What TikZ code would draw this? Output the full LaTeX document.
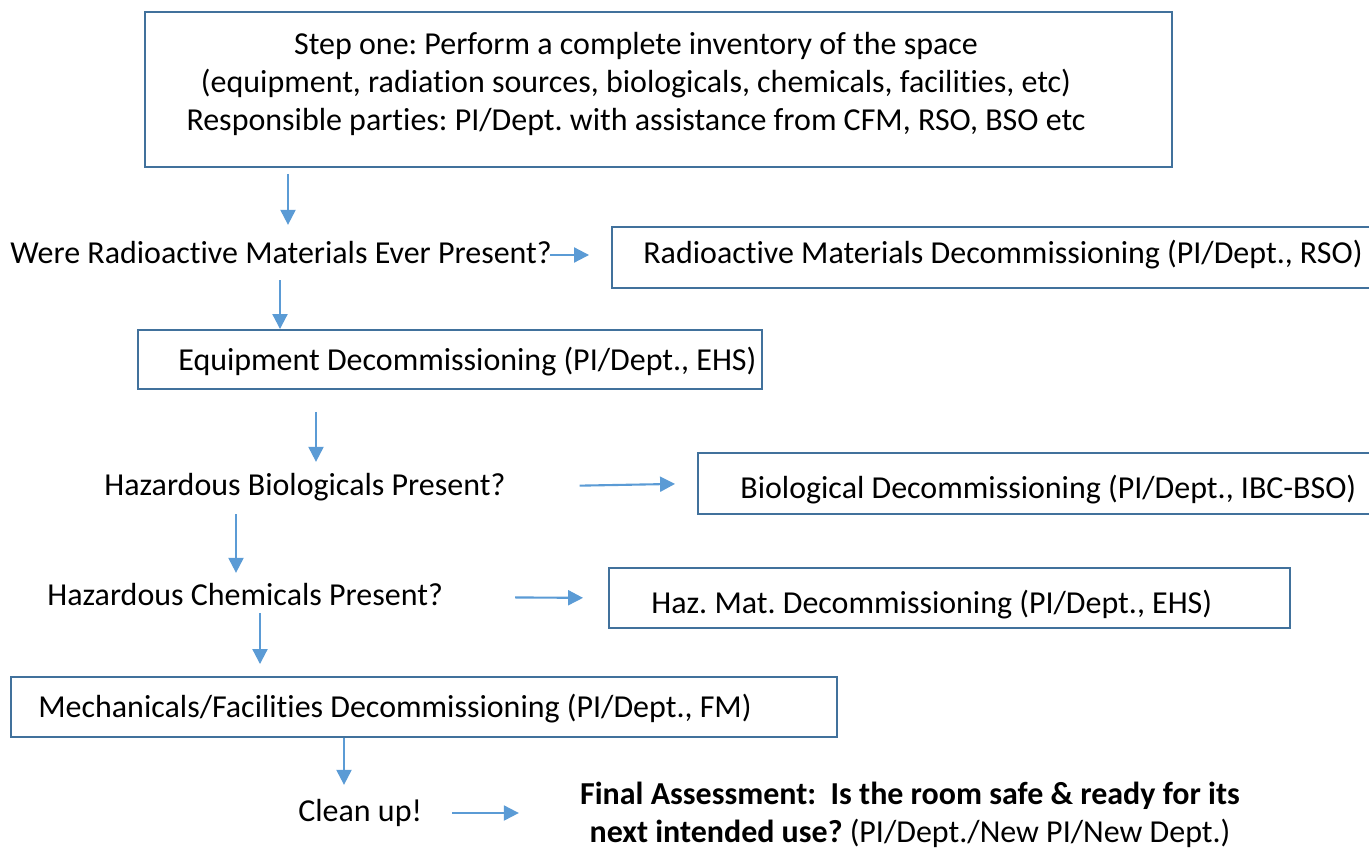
\documentclass[tikz,border=0pt]{standalone}
\usepackage{fontspec}
\setmainfont{Carlito}[Ligatures=CommonOff]
\usepackage{tikz}
\usetikzlibrary{arrows.meta, fit}
\definecolor{boxblue}{RGB}{65,113,156}
\definecolor{arrowblue}{RGB}{91,155,213}
\frenchspacing

\begin{document}
\begin{tikzpicture}[x=0.02cm,y=-0.02cm,
  every node/.style={font=\fontsize{18.2}{21.6}\selectfont},
  box/.style={draw=boxblue,line width=1.1pt,inner sep=0pt},
  txt/.style={inner sep=0pt,anchor=west,text height=0.97em,text depth=0.03em},
  arr/.style={arrowblue,line width=1.2pt,-{Triangle[length=8.5pt,width=8.5pt]}}]
  \clip (0,0) rectangle (1369,848);
  % Boxes
  \node[box,fit={(145,12)(1172,167)}] (step) {};
  \node[box,fit={(612,227)(1400,288)}] (radbox) {};
  \node[box,fit={(138,330)(762,389)}] (eqbox) {};
  \node[box,fit={(698,453)(1400,514)}] (biobox) {};
  \node[box,fit={(609,568)(1290,628)}] (hazbox) {};
  \node[box,fit={(11,677)(837,737)}] (mechbox) {};
  % Texts
  \node[inner sep=0pt,align=center] (steptxt) at (636,84)
    {Step one: Perform a complete inventory of the space\\
     (equipment, radiation sources, biologicals, chemicals, facilities, etc)\\
     Responsible parties: PI/Dept. with assistance from CFM, RSO, BSO etc};
  \node[txt] (qrad) at (10,255) {Were Radioactive Materials Ever Present?};
  \node[txt] (radtxt) at (643,255) {Radioactive Materials Decommissioning (PI/Dept., RSO)};
  \node[txt] (eqtxt) at (178,362) {Equipment Decommissioning (PI/Dept., EHS)};
  \node[txt] (qbio) at (104,487) {Hazardous Biologicals Present?};
  \node[txt] (biotxt) at (740,490) {Biological Decommissioning (PI/Dept., IBC-BSO)};
  \node[txt] (qchem) at (47,597) {Hazardous Chemicals Present?};
  \node[txt] (haztxt) at (651,605) {Haz. Mat. Decommissioning (PI/Dept., EHS)};
  \node[txt] (mechtxt) at (38,709) {Mechanicals/Facilities Decommissioning (PI/Dept., FM)};
  \node[txt] (clean) at (298,813) {Clean up!};
  \node[inner sep=0pt,align=center] (final) at (910,815)
    {\textbf{Final Assessment:\ \ Is the room safe \& ready for its}\\
     \textbf{next intended use?} (PI/Dept./New PI/New Dept.)};
  % Arrow x positions
  \coordinate (x1) at (288,0);
  \coordinate (x2) at (280,0);
  \coordinate (x3) at (316,0);
  \coordinate (x4) at (236,0);
  \coordinate (x5) at (260,0);
  \coordinate (x6) at (344,0);
  % Down arrows
  \draw[arr,shorten <=0.12cm,shorten >=0.42cm] (step.south -| x1) -- (qrad.north -| x1);
  \draw[arr,shorten <=0.32cm] (qrad.south -| x2) -- (eqbox.north -| x2);
  \draw[arr,shorten <=0.44cm,shorten >=0.32cm] (eqbox.south -| x3) -- (qbio.north -| x3);
  \draw[arr,shorten <=0.36cm,shorten >=0.3cm] (qbio.south -| x4) -- (qchem.north -| x4);
  \draw[arr,shorten <=0.14cm,shorten >=0.24cm] (qchem.south -| x5) -- (mechbox.north -| x5);
  \draw[arr,shorten >=0.38cm] (mechbox.south -| x6) -- (clean.north -| x6);
  % Side arrows
  \draw[arr,shorten <=-0.04cm,shorten >=0.44cm] (qrad.east) -- (radbox.west |- qrad.east);
  \draw[arr,shorten <=1.48cm,shorten >=0.44cm] (qbio.east) -- (biobox.west);
  \draw[arr,shorten <=1.44cm,shorten >=0.5cm] (qchem.east) -- (hazbox.west);
  \draw[arr,shorten <=0.6cm,shorten >=1.22cm] (clean.east) -- (final.west |- clean.east);
\end{tikzpicture}
\end{document}
